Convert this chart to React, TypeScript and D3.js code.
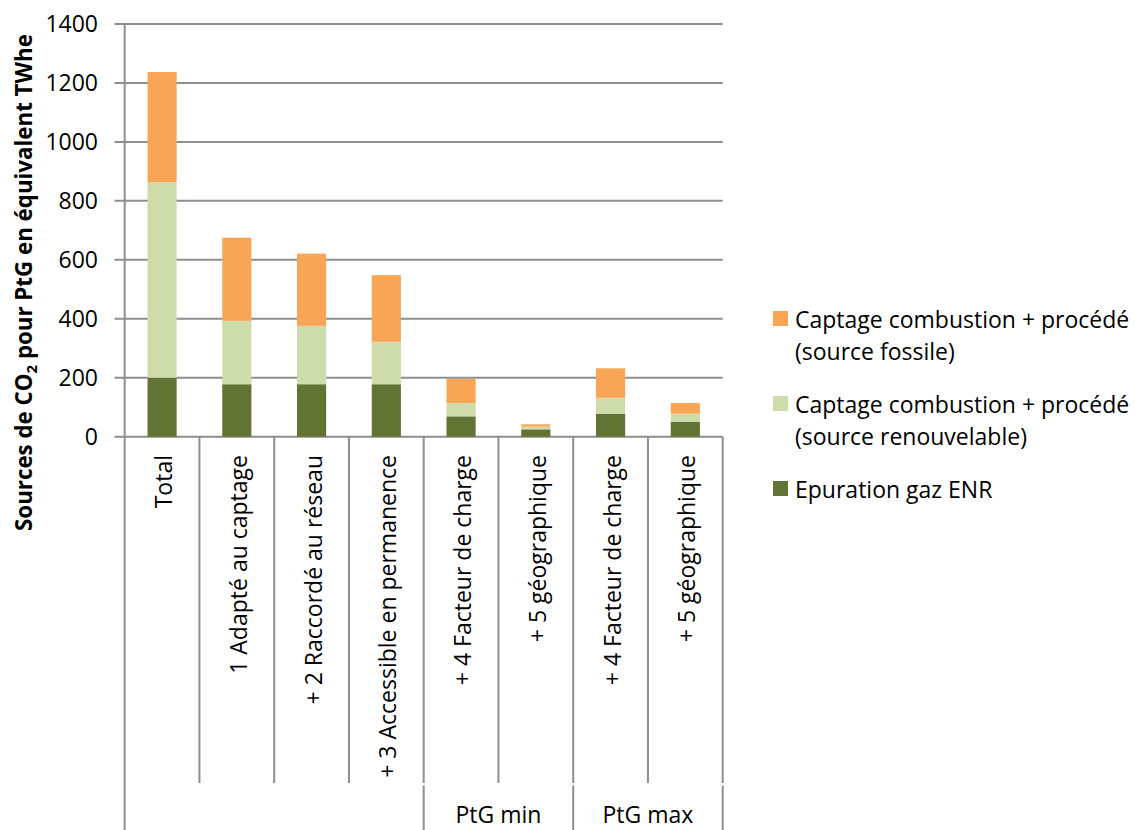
import React from "react";
import * as d3 from "d3";

const categories = [
  "Total",
  "1 Adapté au captage",
  "+ 2 Raccordé au réseau",
  "+ 3 Accessible en permanence",
  "+ 4 Facteur de charge",
  "+ 5 géographique",
  "+ 4 Facteur de charge",
  "+ 5 géographique",
];
const groups = [
  { label: "", from: 0, to: 4 },
  { label: "PtG min", from: 4, to: 6 },
  { label: "PtG max", from: 6, to: 8 },
];
const epuration = [200, 178, 178, 178, 69, 25, 78, 51];
const renouvelable = [664, 215, 198, 144, 45, 9, 54, 27];
const fossile = [373, 282, 245, 226, 82, 8, 100, 36];
const yTicks = [0, 200, 400, 600, 800, 1000, 1200, 1400];
const seriesKeys = ["epuration", "renouvelable", "fossile"];
const seriesLabels: Record<string, string[]> = {
  fossile: ["Captage combustion + procédé", "(source fossile)"],
  renouvelable: ["Captage combustion + procédé", "(source renouvelable)"],
  epuration: ["Epuration gaz ENR"],
};
const colors: Record<string, string> = {
  epuration: "#627433",
  renouvelable: "#CEDCAB",
  fossile: "#F8A556",
};

const FONT = "'Open Sans', Lato, sans-serif";
const GRID = "#8E8E8E";

export default function App() {
  const width = 1135;
  const height = 830;
  const left = 124.7;
  const right = 722.7;
  const top = 24;
  const bottom = 436.7;

  const x = d3
    .scaleBand<number>()
    .domain(d3.range(categories.length))
    .range([left, right])
    .paddingInner(0)
    .paddingOuter(0);
  const y = d3.scaleLinear().domain([0, 1400]).range([bottom, top]);

  const table = categories.map((c, i) => ({
    i,
    epuration: epuration[i],
    renouvelable: renouvelable[i],
    fossile: fossile[i],
  }));
  const stacked = d3.stack<any>().keys(seriesKeys)(table);
  const bw = x.bandwidth() * 0.39;

  const sepBottom = 783;
  const grpTop = 785.5;

  return (
    <svg
      width={width}
      height={height}
      style={{ position: "absolute", left: 0, top: 0, background: "#fff" }}
      fontFamily={FONT}
    >
      {/* gridlines and ticks */}
      {yTicks.map((t) => (
        <g key={t}>
          <line x1={114.5} x2={right} y1={y(t)} y2={y(t)} stroke={GRID} strokeWidth={2} />
          <text
            x={98}
            y={y(t)}
            dy="0.36em"
            textAnchor="end"
            fontSize={23}
            fill="#000"
          >
            {t}
          </text>
        </g>
      ))}
      {/* bars */}
      {stacked.map((layer) => (
        <g key={layer.key} fill={colors[layer.key]}>
          {layer.map((d, i) => (
            <rect
              key={i}
              x={(x(i) as number) + (x.bandwidth() - bw) / 2}
              y={y(d[1])}
              width={bw}
              height={y(d[0]) - y(d[1])}
            />
          ))}
        </g>
      ))}
      {/* y axis line */}
      <line x1={left} x2={left} y1={top} y2={height} stroke={GRID} strokeWidth={2} />
      {/* category separators */}
      {d3.range(1, categories.length + 1).map((i) => {
        const xx = i === categories.length ? right : (x(i) as number);
        return (
          <line key={i} x1={xx} x2={xx} y1={bottom} y2={sepBottom} stroke={GRID} strokeWidth={2} />
        );
      })}
      {/* group separators */}
      {groups.map((g) => {
        const xx = g.to === categories.length ? right : (x(g.to) as number);
        return (
          <line key={g.to} x1={xx} x2={xx} y1={grpTop} y2={height} stroke={GRID} strokeWidth={2} />
        );
      })}
      {/* category labels */}
      {categories.map((c, i) => {
        const cx = (x(i) as number) + x.bandwidth() / 2;
        return (
          <text
            key={i}
            transform={`translate(${cx + 10},${455}) rotate(-90)`}
            textAnchor="end"
            fontSize={23}
            fill="#000"
          >
            {c}
          </text>
        );
      })}
      {/* group labels */}
      {groups.map((g) =>
        g.label ? (
          <text
            key={g.label}
            x={((x(g.from) as number) + (g.to === categories.length ? right : (x(g.to) as number))) / 2}
            y={823}
            textAnchor="middle"
            fontSize={23}
            fill="#000"
          >
            {g.label}
          </text>
        ) : null
      )}
      {/* y title */}
      <text
        transform={`translate(31.5,${282.5}) rotate(-90)`}
        textAnchor="middle"
        fontSize={22.3}
        fontWeight="bold"
        fill="#000"
      >
        Sources de CO
        <tspan fontSize={15} dy={5}>2</tspan>
        <tspan dy={-5}> pour PtG en équivalent TWhe</tspan>
      </text>
      {/* legend */}
      {["fossile", "renouvelable", "epuration"].map((k, j) => {
        const ly = [320, 405, 490][j];
        return (
          <g key={k}>
            <rect x={773} y={ly - 9} width={15} height={15} fill={colors[k]} />
            {seriesLabels[k].map((line, li) => (
              <text key={li} x={795} y={ly + li * 32} dy="0.36em" fontSize={23} fill="#000">
                {line}
              </text>
            ))}
          </g>
        );
      })}
    </svg>
  );
}
